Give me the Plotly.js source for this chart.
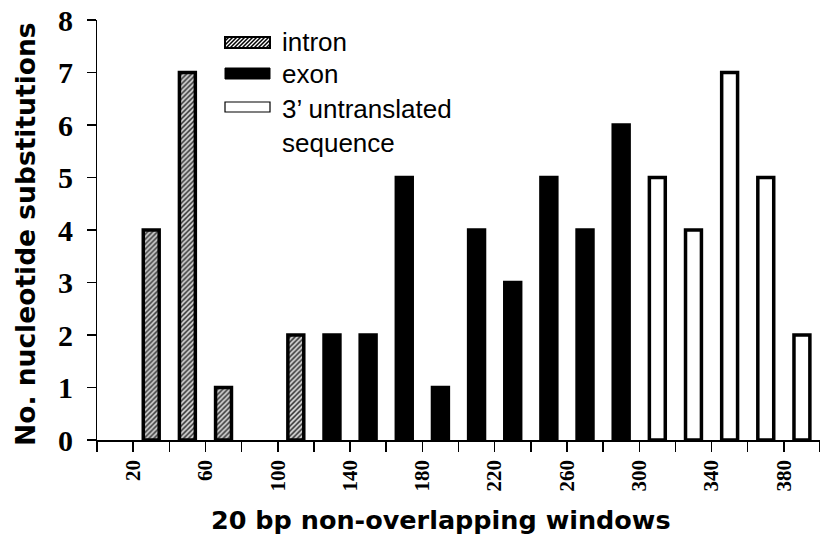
<!DOCTYPE html>
<html>
<head>
<meta charset="utf-8">
<script src="https://cdn.plot.ly/plotly-3.0.1.min.js"></script>
<style>html,body{margin:0;padding:0;background:#fff;}#chart{width:820px;height:535px;}</style>
</head>
<body>
<div id="chart"></div>
<script>
// ---- data (window start position in bp, number of substitutions) ----
const intronWindows = [20, 40, 60, 80, 100];
const intronValues  = [4, 7, 1, 0, 2];
const exonWindows   = [120, 140, 160, 180, 200, 220, 240, 260, 280];
const exonValues    = [2, 2, 5, 1, 4, 3, 5, 4, 6];
const utrWindows    = [300, 320, 340, 360, 380];
const utrValues     = [5, 4, 7, 5, 2];
const tickLabels    = [20, 60, 100, 140, 180, 220, 260, 300, 340, 380];
const seriesNames   = ['intron', 'exon', '3\u2019 untranslated<br>sequence'];
const xTitle = '20 bp non-overlapping windows';
const yTitle = 'No. nucleotide substitutions';

// ---- styling / geometry ----
const WINDOW = 20;
const BAR_W = 8.8;
const BAR_OFF = (WINDOW - BAR_W) / 2;
const LW = 3.5;
const M = {l: 97, r: 0, t: 20, b: 95};
const W = 820, H = 535;
const PW = W - M.l - M.r, PH = H - M.t - M.b;
const px = x => (x - M.l) / PW;
const py = y => (H - M.b - y) / PH;
const lineW = vals => vals.map(v => (v > 0 ? LW : 0));

const common = {type: 'bar', width: BAR_W, offset: BAR_OFF, showlegend: false, hoverinfo: 'x+y'};
const traces = [
  Object.assign({}, common, {
    name: 'intron', x: intronWindows, y: intronValues,
    marker: {color: '#c8c8c8', line: {color: '#000', width: lineW(intronValues)},
             pattern: {shape: '/', size: 3.5, solidity: 0.45, fgcolor: '#3a3a3a', bgcolor: '#d0d0d0', fillmode: 'replace'}}
  }),
  Object.assign({}, common, {
    name: 'exon', x: exonWindows, y: exonValues,
    marker: {color: '#000000', line: {color: '#000', width: lineW(exonValues)}}
  }),
  Object.assign({}, common, {
    name: '3\u2019 untranslated sequence', x: utrWindows, y: utrValues,
    marker: {color: '#ffffff', line: {color: '#000', width: lineW(utrValues)}}
  })
];

// ---- custom legend (swatches + labels) ----
function hatchPath(x0, y0, x1, y1, step) {
  const h = y1 - y0;
  let d = '';
  for (let k = x0 - h; k < x1; k += step) {
    let ax = k, ay = y1, bx = k + h, by = y0;
    if (ax < x0) { ay = y1 - (x0 - ax); ax = x0; }
    if (bx > x1) { by = y0 + (bx - x1); bx = x1; }
    if (ay <= y0 || by >= y1) continue;
    d += 'M' + px(ax).toFixed(5) + ',' + py(ay).toFixed(5) + 'L' + px(bx).toFixed(5) + ',' + py(by).toFixed(5);
  }
  return d;
}
const sw = {x0: 225, x1: 270};
const rows = [{y0: 37, y1: 48}, {y0: 68, y1: 79}, {y0: 102, y1: 112}];
const shapes = [
  {type: 'rect', xref: 'paper', yref: 'paper', x0: px(sw.x0), x1: px(sw.x1), y0: py(rows[0].y1), y1: py(rows[0].y0),
   fillcolor: '#fff', line: {color: '#000', width: 2}},
  {type: 'path', xref: 'paper', yref: 'paper', path: hatchPath(sw.x0, rows[0].y0, sw.x1, rows[0].y1, 4),
   line: {color: '#000', width: 1.5}},
  {type: 'rect', xref: 'paper', yref: 'paper', x0: px(sw.x0), x1: px(sw.x1), y0: py(rows[1].y1), y1: py(rows[1].y0),
   fillcolor: '#000', line: {color: '#000', width: 1}},
  {type: 'rect', xref: 'paper', yref: 'paper', x0: px(sw.x0), x1: px(sw.x1), y0: py(rows[2].y1), y1: py(rows[2].y0),
   fillcolor: '#fff', line: {color: '#000', width: 1.2}}
];
const legFont = {family: 'Liberation Sans, Arial, sans-serif', size: 26, color: '#000'};
const titleFont = {family: 'DejaVu Sans, sans-serif', size: 25.5, color: '#000', weight: 'bold'};
const yTitleFont = {family: 'DejaVu Sans, sans-serif', size: 26.5, color: '#000', weight: 'bold'};
const annotations = [
  {xref: 'paper', yref: 'paper', x: px(280), y: py(42), xanchor: 'left', yanchor: 'middle', showarrow: false, text: seriesNames[0], font: legFont, align: 'left'},
  {xref: 'paper', yref: 'paper', x: px(280), y: py(74), xanchor: 'left', yanchor: 'middle', showarrow: false, text: seriesNames[1], font: legFont, align: 'left'},
  {xref: 'paper', yref: 'paper', x: px(280), y: py(92), xanchor: 'left', yanchor: 'top', showarrow: false, text: seriesNames[2], font: legFont, align: 'left'},
  {xref: 'paper', yref: 'paper', x: px(441), y: py(520), xanchor: 'center', yanchor: 'middle', showarrow: false, text: xTitle, font: titleFont},
  {xref: 'paper', yref: 'paper', x: px(25), y: py(234), xanchor: 'center', yanchor: 'middle', showarrow: false, text: yTitle, font: yTitleFont, textangle: -90}
];

const layout = {
  width: W, height: H,
  margin: M,
  paper_bgcolor: '#fff', plot_bgcolor: '#fff',
  showlegend: false,
  xaxis: {
    range: [0, 400], showgrid: false, zeroline: false,
    showline: true, linecolor: '#000', linewidth: 1.5,
    tickmode: 'array', tickvals: tickLabels, ticktext: tickLabels.map(String),
    ticks: 'outside', ticklen: 10, tickwidth: 1.5, tickcolor: '#000',
    tickangle: -90,
    tickfont: {family: 'Liberation Serif, Times New Roman, serif', size: 21, color: '#000', weight: 'bold'},
    minor: {tick0: 0, dtick: 20, ticks: 'outside', ticklen: 10, tickwidth: 1.5, tickcolor: '#000', showgrid: false}
  },
  yaxis: {
    range: [0, 8], dtick: 1, showgrid: false, zeroline: false,
    showline: true, linecolor: '#000', linewidth: 1.5,
    ticks: 'outside', ticklen: 9, tickwidth: 1.5, tickcolor: '#000',
    ticksuffix: '\u00a0',
    tickfont: {family: 'Liberation Serif, Times New Roman, serif', size: 30, color: '#000', weight: 'bold'}
  },
  shapes: shapes,
  annotations: annotations
};

Plotly.newPlot('chart', traces, layout, {displayModeBar: false, staticPlot: true});
</script>
</body>
</html>
